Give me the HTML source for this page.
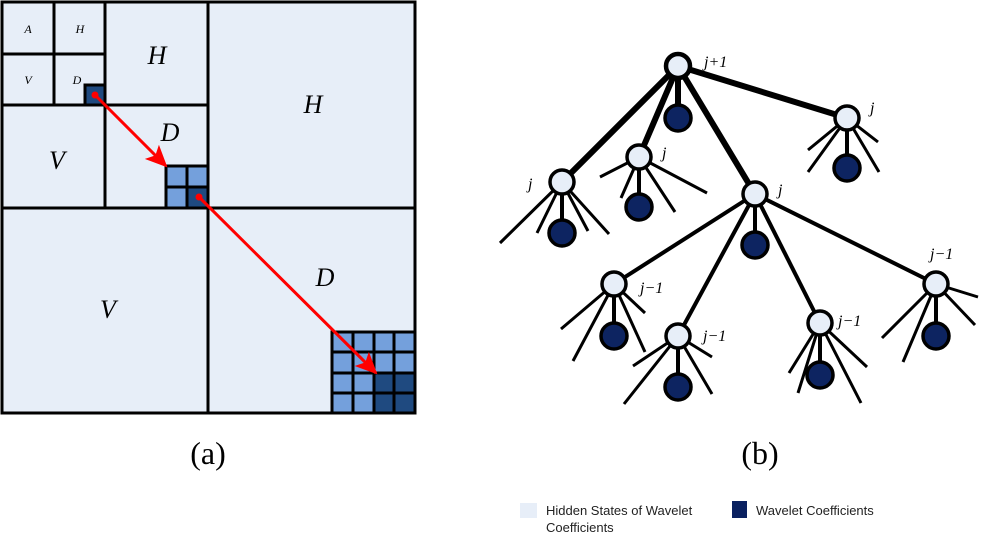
<!DOCTYPE html>
<html><head><meta charset="utf-8"><style>
html,body{margin:0;padding:0;background:#fff;width:988px;height:554px;overflow:hidden}
svg{display:block}
.lbl{font-family:"Liberation Serif",serif;font-style:italic;fill:#000}
.leg{font-family:"Liberation Sans",sans-serif;font-size:13px;fill:#222}
</style></head><body>
<svg width="988" height="554" viewBox="0 0 988 554">
<defs><marker id="ah" markerWidth="22" markerHeight="20" refX="20" refY="10" orient="auto" markerUnits="userSpaceOnUse"><path d="M0,0 L22,10 L0,20 L5,10 Z" fill="#f00"/></marker></defs>
<g>
<rect x="2" y="2" width="413" height="411" fill="#e7eef8" stroke="#000" stroke-width="3"/>
<g stroke="#000" stroke-width="3">
<line x1="208" y1="2" x2="208" y2="413"/><line x1="2" y1="208" x2="415" y2="208"/>
<line x1="105" y1="2" x2="105" y2="208"/><line x1="2" y1="105" x2="208" y2="105"/>
<line x1="54" y1="2" x2="54" y2="105"/><line x1="2" y1="54" x2="105" y2="54"/>
</g>
<rect x="85" y="85" width="20" height="20" fill="#1f4a80" stroke="#000" stroke-width="3"/>
<g stroke="#000" stroke-width="3">
<rect x="166" y="166" width="21" height="21" fill="#74a0dc"/><rect x="187" y="166" width="21" height="21" fill="#74a0dc"/>
<rect x="166" y="187" width="21" height="21" fill="#74a0dc"/><rect x="187" y="187" width="21" height="21" fill="#1f4a80"/>
</g>
<g stroke="#000" stroke-width="3">
<rect x="332" y="332" width="21" height="20" fill="#74a0dc"/><rect x="353" y="332" width="21" height="20" fill="#74a0dc"/><rect x="374" y="332" width="20" height="20" fill="#74a0dc"/><rect x="394" y="332" width="21" height="20" fill="#74a0dc"/>
<rect x="332" y="352" width="21" height="21" fill="#74a0dc"/><rect x="353" y="352" width="21" height="21" fill="#74a0dc"/><rect x="374" y="352" width="20" height="21" fill="#74a0dc"/><rect x="394" y="352" width="21" height="21" fill="#74a0dc"/>
<rect x="332" y="373" width="21" height="20" fill="#74a0dc"/><rect x="353" y="373" width="21" height="20" fill="#74a0dc"/><rect x="374" y="373" width="20" height="20" fill="#1f4a80"/><rect x="394" y="373" width="21" height="20" fill="#1f4a80"/>
<rect x="332" y="393" width="21" height="20" fill="#74a0dc"/><rect x="353" y="393" width="21" height="20" fill="#74a0dc"/><rect x="374" y="393" width="20" height="20" fill="#1f4a80"/><rect x="394" y="393" width="21" height="20" fill="#1f4a80"/>
</g>
<g stroke="#f00" stroke-width="3" fill="#f00">
<circle cx="95" cy="95" r="3.5" stroke="none"/><line x1="95" y1="95" x2="166" y2="166" marker-end="url(#ah)"/>
<circle cx="199" cy="197" r="3.5" stroke="none"/><line x1="199" y1="197" x2="376" y2="373" marker-end="url(#ah)"/>
</g>
<g class="lbl">
<text x="28" y="33" font-size="12" text-anchor="middle">A</text>
<text x="80" y="33" font-size="12" text-anchor="middle">H</text>
<text x="28" y="84" font-size="12" text-anchor="middle">V</text>
<text x="77" y="84" font-size="12" text-anchor="middle">D</text>
<text x="157" y="64" font-size="26" text-anchor="middle">H</text>
<text x="313" y="113" font-size="26" text-anchor="middle">H</text>
<text x="170" y="141" font-size="26" text-anchor="middle">D</text>
<text x="57" y="169" font-size="26" text-anchor="middle">V</text>
<text x="108" y="318" font-size="26" text-anchor="middle">V</text>
<text x="325" y="286" font-size="26" text-anchor="middle">D</text>
</g>
</g>
<text x="208" y="464" font-family="Liberation Serif,serif" font-size="32" text-anchor="middle">(a)</text>
<text x="760" y="464" font-family="Liberation Serif,serif" font-size="32" text-anchor="middle">(b)</text>
<g stroke="#000" stroke-linecap="butt">
<g stroke-width="6">
<line x1="678" y1="66" x2="562" y2="182"/><line x1="678" y1="66" x2="639" y2="157"/>
<line x1="678" y1="66" x2="755" y2="194"/><line x1="678" y1="66" x2="847" y2="118"/>
<line x1="678" y1="66" x2="678" y2="118"/>
</g>
<g stroke-width="4">
<line x1="755" y1="194" x2="614" y2="284"/><line x1="755" y1="194" x2="678" y2="336"/>
<line x1="755" y1="194" x2="820" y2="323"/><line x1="755" y1="194" x2="936" y2="284"/>
<line x1="562" y1="182" x2="562" y2="233"/><line x1="639" y1="157" x2="639" y2="207"/>
<line x1="755" y1="194" x2="755" y2="245"/><line x1="847" y1="118" x2="847" y2="168"/>
<line x1="614" y1="284" x2="614" y2="336"/><line x1="678" y1="336" x2="678" y2="387"/>
<line x1="820" y1="323" x2="820" y2="375"/><line x1="936" y1="284" x2="936" y2="336"/>
</g>
<g stroke-width="3">
<path d="M562,182L500,243M562,182L537,233M562,182L588,231M562,182L609,234"/>
<path d="M639,157L600,177M639,157L621,198M639,157L675,212M639,157L707,193"/>
<path d="M847,118L808,150M847,118L808,172M847,118L878,142M847,118L879,172"/>
<path d="M614,284L561,329M614,284L573,361M614,284L645,313M614,284L645,352"/>
<path d="M678,336L633,366M678,336L624,404M678,336L712,357M678,336L712,394"/>
<path d="M820,323L789,373M820,323L798,393M820,323L867,367M820,323L861,403"/>
<path d="M936,284L882,338M936,284L903,362M936,284L978,297M936,284L975,325"/>
</g>
<g fill="#e7eef8" stroke-width="3.5">
<circle cx="678" cy="66" r="12" stroke-width="4.5"/>
<circle cx="562" cy="182" r="12"/><circle cx="639" cy="157" r="12"/><circle cx="755" cy="194" r="12"/><circle cx="847" cy="118" r="12"/>
<circle cx="614" cy="284" r="12"/><circle cx="678" cy="336" r="12"/><circle cx="820" cy="323" r="12"/><circle cx="936" cy="284" r="12"/>
</g>
<g fill="#0d2461" stroke-width="3.5">
<circle cx="678" cy="118" r="13"/><circle cx="562" cy="233" r="13"/><circle cx="639" cy="207" r="13"/><circle cx="755" cy="245" r="13"/><circle cx="847" cy="168" r="13"/>
<circle cx="614" cy="336" r="13"/><circle cx="678" cy="387" r="13"/><circle cx="820" cy="375" r="13"/><circle cx="936" cy="336" r="13"/>
</g>
</g>
<g class="lbl" font-size="16">
<text x="704" y="67">j+1</text>
<text x="662" y="158">j</text>
<text x="528" y="189">j</text>
<text x="778" y="195">j</text>
<text x="870" y="113">j</text>
<text x="640" y="293">j−1</text>
<text x="703" y="341">j−1</text>
<text x="838" y="326">j−1</text>
<text x="930" y="259">j−1</text>
</g>
<g>
<rect x="520" y="503" width="17" height="15" fill="#e7eef8"/>
<text class="leg" x="546" y="515">Hidden States of Wavelet</text>
<text class="leg" x="546" y="532">Coefficients</text>
<rect x="732" y="501" width="15" height="17" fill="#0a2160"/>
<text class="leg" x="756" y="515">Wavelet Coefficients</text>
</g>
</svg>
</body></html>
